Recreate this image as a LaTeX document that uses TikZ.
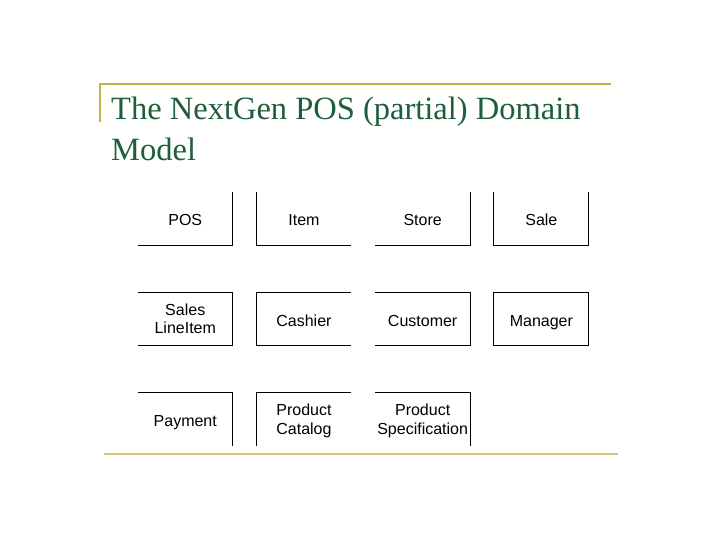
\documentclass[tikz,border=0pt]{standalone}
\usepackage{fontspec}
\setmainfont{Liberation Serif}
\setsansfont{Liberation Sans}
\usetikzlibrary{positioning}
\definecolor{gold}{HTML}{C8B04A}
\definecolor{goldsoft}{HTML}{D4C674}
\definecolor{titlegreen}{HTML}{1F5E3B}

\begin{document}
\begin{tikzpicture}[x=1pt,y=-1pt,node distance=47pt and 23.8pt,
  cls/.style={minimum width=94.5pt,minimum height=53pt,inner sep=0pt,align=center,
    font=\sffamily\fontsize{16}{18.5}\selectfont,
    execute at begin node={\rule{0pt}{20pt}},execute at end node=\strut},
  cls2/.style={cls,execute at begin node={\rule{0pt}{35.5pt}}},
  edge/.style={line width=0.9pt,black}]
\useasboundingbox[fill=white] (0,0) rectangle (720,540);
% title bar
\coordinate (barl) at (100,84);
\coordinate (barr) at (611,84);
\coordinate (barb) at (100,122);
\draw[gold,line width=2pt] (barb) -- (barl) -- (barr);
\node[anchor=base west,inner sep=0pt,text=titlegreen,font=\fontsize{32.5}{41}\selectfont] (title) at (111,120) {The NextGen POS (partial) Domain};
\node[anchor=base west,inner sep=0pt,text=titlegreen,font=\fontsize{32.5}{41}\selectfont] (title2) at (111,161) {Model};
% classes
\node[cls] (pos) at (185.25,218.5) {POS};
\node[cls,right=of pos] (item) {Item};
\node[cls,right=of item] (store) {Store};
\node[cls,right=of store] (sale) {Sale};
\node[cls2,below=of pos] (sli) {Sales\\LineItem};
\node[cls,right=of sli] (cashier) {Cashier};
\node[cls,right=of cashier] (customer) {Customer};
\node[cls,right=of customer] (manager) {Manager};
\node[cls,below=of sli] (payment) {Payment};
\node[cls2,right=of payment] (catalog) {Product\\Catalog};
\node[cls2,right=of catalog] (spec) {Product\\Specification};
% box edges
\draw[edge] (pos.north east) -- (pos.south east) -- (pos.south west);
\draw[edge] (item.north west) -- (item.south west) -- (item.south east);
\draw[edge] (store.north east) -- (store.south east) -- (store.south west);
\draw[edge] (sale.north west) -- (sale.south west) -- (sale.south east) -- (sale.north east);
\draw[edge] (sli.north west) -- (sli.north east) -- (sli.south east) -- (sli.south west);
\draw[edge] (cashier.north east) -- (cashier.north west) -- (cashier.south west) -- (cashier.south east);
\draw[edge] (customer.north west) -- (customer.north east) -- (customer.south east) -- (customer.south west);
\draw[edge] (manager.north west) rectangle (manager.south east);
\draw[edge] (payment.north west) -- (payment.north east) -- (payment.south east);
\draw[edge] (catalog.north east) -- (catalog.north west) -- (catalog.south west);
\draw[edge] (spec.north west) -- (spec.north east) -- (spec.south east);
% footer line
\coordinate (footl) at (104,454);
\coordinate (footr) at (618,454);
\draw[goldsoft,line width=1.5pt] (footl) -- (footr);
\end{tikzpicture}
\end{document}
